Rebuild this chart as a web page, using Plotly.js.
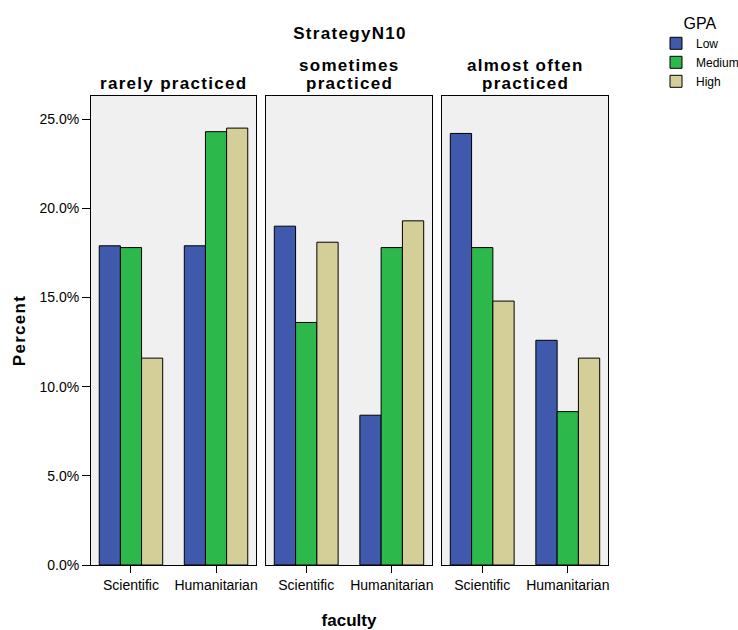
<!DOCTYPE html>
<html>
<head>
<meta charset="utf-8">
<script src="https://cdn.plot.ly/plotly-3.0.1.min.js"></script>
<style>
  html, body { margin: 0; padding: 0; background: #ffffff; }
  #chart { width: 738px; height: 630px; }
  .gtitle, .annotation-text, .xtitle, .ytitle { letter-spacing: 1.3px; }
</style>
</head>
<body>
<div id="chart"></div>
<script>
// ---- data ----
const categories = ['Scientific', 'Humanitarian'];
const panelTitles = ['rarely practiced', 'sometimes<br>practiced', 'almost often<br>practiced'];
const gpaLevels = ['Low', 'Medium', 'High'];
// percent values, one pair (Scientific, Humanitarian) per panel
const lowValues    = [[17.9, 17.9], [19.0, 8.4], [24.2, 12.6]];
const mediumValues = [[17.8, 24.3], [13.6, 17.8], [17.8, 8.6]];
const highValues   = [[11.6, 24.5], [18.1, 19.3], [14.8, 11.6]];
const yTickValues  = [0, 5, 10, 15, 20, 25];

// ---- styling ----
const W = 738, H = 630;
const colors = ['#3f59ad', '#2db84b', '#d4ce98'];
const seriesValues = [lowValues, mediumValues, highValues];
const font = 'Liberation Sans, Arial, sans-serif';
const px = v => v / W;
const py = v => (H - v) / H;
const panelPx = [[91, 256], [266, 432], [442, 608]];
const yDomain = [py(565), py(96)];

const traces = [];
for (let p = 0; p < 3; p++) {
  for (let s = 0; s < 3; s++) {
    traces.push({
      type: 'bar',
      x: categories,
      y: seriesValues[s][p],
      name: gpaLevels[s],
      legendgroup: gpaLevels[s],
      showlegend: p === 0,
      xaxis: p === 0 ? 'x' : 'x' + (p + 1),
      yaxis: p === 0 ? 'y' : 'y' + (p + 1),
      marker: { color: colors[s], line: { color: '#000000', width: 1 } },
      hoverinfo: 'skip'
    });
  }
}

const layout = {
  width: W, height: H,
  margin: { l: 0, r: 0, t: 0, b: 0, autoexpand: false },
  paper_bgcolor: '#ffffff',
  plot_bgcolor: '#f0f0f0',
  font: { family: font, color: '#000000', size: 14 },
  barmode: 'group',
  bargap: 0.254,
  bargroupgap: 0,
  showlegend: true,
  title: {
    text: '<b>StrategyN10</b>',
    font: { family: font, size: 17, color: '#000' },
    x: px(350), xanchor: 'center',
    y: py(33), yanchor: 'middle', xref: 'paper', yref: 'paper'
  },
  legend: {
    x: px(656), y: py(8), xanchor: 'left', yanchor: 'top',
    bgcolor: 'rgba(0,0,0,0)',
    font: { family: font, size: 12, color: '#000' },
    title: { text: 'GPA', side: 'top center', font: { family: font, size: 16, color: '#000' } },
    traceorder: 'normal',
    tracegroupgap: 0
  },
  annotations: [],
};

for (let p = 0; p < 3; p++) {
  const sfx = p === 0 ? '' : String(p + 1);
  layout['xaxis' + sfx] = {
    domain: [px(panelPx[p][0]), px(panelPx[p][1])],
    anchor: 'y' + sfx,
    type: 'category',
    range: [-0.47, 1.47],
    showline: true, mirror: true, linecolor: '#000', linewidth: 1,
    ticks: 'outside', ticklen: 7, tickcolor: '#000', tickwidth: 1,
    tickfont: { family: font, size: 14, color: '#000' },
    showgrid: false, zeroline: false, fixedrange: true
  };
  layout['yaxis' + sfx] = {
    domain: yDomain,
    anchor: 'x' + sfx,
    range: [0, 26.3],
    tickvals: yTickValues,
    ticktext: yTickValues.map(v => v.toFixed(1) + '%'),
    showticklabels: p === 0,
    ticks: p === 0 ? 'outside' : '',
    ticklen: 8, tickcolor: '#000', tickwidth: 1,
    tickfont: { family: font, size: 14, color: '#000' },
    showline: true, mirror: true, linecolor: '#000', linewidth: 1,
    showgrid: false, zeroline: false, fixedrange: true
  };
  // each title line placed separately for tighter line spacing
  const lines = panelTitles[p].split('<br>');
  const cx = (px(panelPx[p][0]) + px(panelPx[p][1])) / 2;
  lines.forEach((ln, i) => {
    const centerY = 84 - (lines.length - 1 - i) * 18;
    layout.annotations.push({
      text: '<b>' + ln + '</b>',
      xref: 'paper', yref: 'paper',
      x: cx, xanchor: 'center',
      y: py(centerY), yanchor: 'middle',
      showarrow: false,
      font: { family: font, size: 17, color: '#000' }
    });
  });
}
layout.yaxis.title = { text: '<b>Percent</b>', font: { family: font, size: 17, color: '#000' }, standoff: 9 };
layout.xaxis2.title = { text: '<b>faculty</b>', font: { family: font, size: 17, color: '#000' }, standoff: 22 };

Plotly.newPlot('chart', traces, layout, { staticPlot: true, displayModeBar: false });
</script>
</body>
</html>
